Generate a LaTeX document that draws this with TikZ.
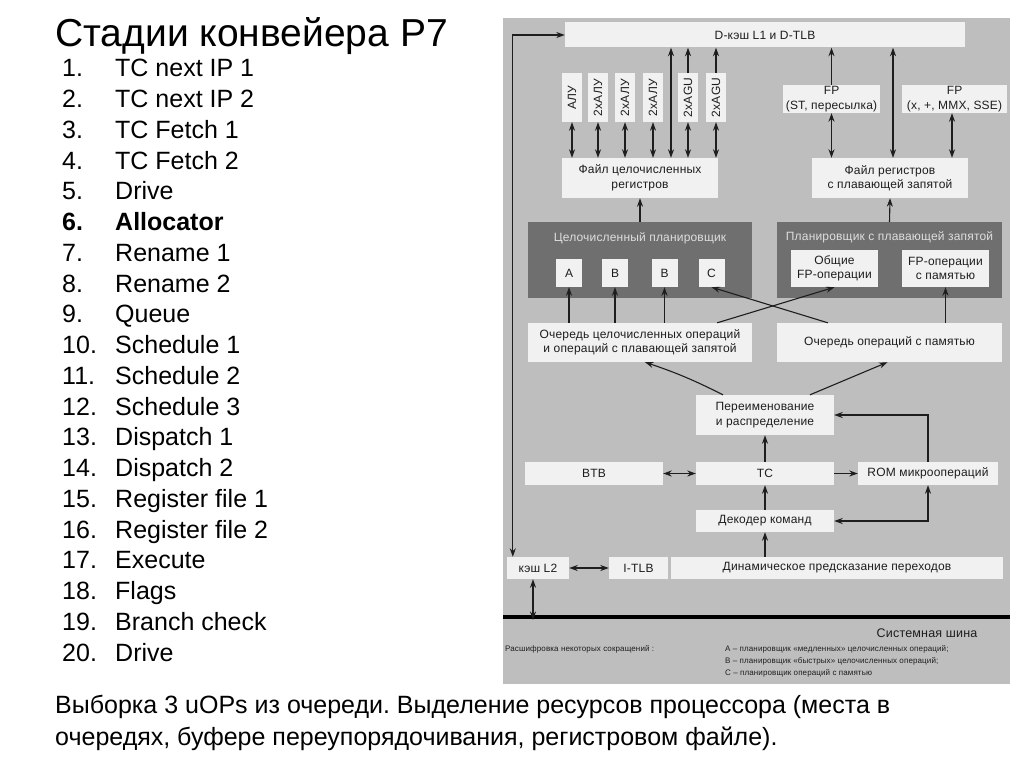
\documentclass[tikz,border=0pt]{standalone}
\usepackage{fontspec}
\usepackage{graphicx}
\setmainfont{Liberation Sans}
\newfontfamily\diagfont{Liberation Sans}[LetterSpace=1.5]
\usetikzlibrary{arrows.meta, positioning, calc}
\definecolor{P7_Back}{HTML}{BEBEBE}
\definecolor{P7_Box}{HTML}{F1F1F1}
\definecolor{P7_Dark}{HTML}{6F6F6F}
\definecolor{P7_Ink}{HTML}{1E1E1E}
\frenchspacing

\begin{document}
\begin{tikzpicture}[
    x=1pt, y=-1pt,
    >={Stealth[length=8.5pt, width=6pt]},
    sz/.style 2 args={minimum width=#1, minimum height=#2},
    blk/.style={
        fill=P7_Box,
        draw=none,
        text=P7_Ink,
        inner sep=1pt,
        align=center,
        font=\diagfont\fontsize{12}{14.5}\selectfont
    },
    sched/.style={fill=P7_Dark, draw=none},
    schedtitle/.style={text=P7_Box!85!P7_Dark, inner sep=0pt, font=\diagfont\fontsize{12}{14}\selectfont},
    arr/.style={draw=P7_Ink, line width=1.1pt},
    stage/.style={anchor=base west, inner sep=0pt, font=\fontsize{25}{30}\selectfont},
    legend/.style={anchor=west, inner sep=0pt, text=P7_Ink, font=\diagfont\fontsize{8}{10}\selectfont}
]
\useasboundingbox (0,0) rectangle (1024,768);
\fill[white] (0,0) rectangle (1024,768);

% title and list of stages
\node[anchor=base west, inner sep=0pt, font=\fontsize{39}{44}\selectfont] (title) at (55,46) {Стадии конвейера P7};
\foreach \txt [count=\i] in {TC next IP 1, TC next IP 2, TC Fetch 1, TC Fetch 2, Drive, Allocator, Rename 1, Rename 2, Queue, Schedule 1, Schedule 2, Schedule 3, Dispatch 1, Dispatch 2, Register file 1, Register file 2, Execute, Flags, Branch check, Drive}{
    \ifnum\i=6 \def\fw{\bfseries}\else\def\fw{}\fi
    \node[stage] (num\i) at (62, {77+(\i-1)*30.74}) {\fw\i.};
    \node[stage] (stg\i) at (115, {77+(\i-1)*30.74}) {\fw\txt};
}
\node[stage] (cap1) at (55,713) {Выборка 3 uOPs из очереди. Выделение ресурсов процессора (места в};
\node[stage] (cap2) at (55,745) {очередях, буфере переупорядочивания, регистровом файле).};

% diagram background
\fill[P7_Back] (503,18) rectangle (1010,684);

% memory side
\node[blk, sz={400}{25}] (dcache) at (765,35) {D-кэш L1 и D-TLB};
\foreach \x/\lbl [count=\i] in {572/АЛУ, 598/2xАЛУ, 625/2xАЛУ, 653/2xАЛУ, 688/2xAGU, 716/2xAGU}{
    \node[blk, sz={20}{49}] (alu\i) at (\x,97.5) {\rotatebox{90}{\lbl}};
}
\node[blk, sz={156}{40}] (ifile) at (640,178) {Файл целочисленных\\регистров};
\node[blk, sz={97}{28}] (fpst) at (831.5,99) {FP\\(ST, пересылка)};
\node[blk, sz={105}{28}] (fpmmx) at (954.5,99) {FP\\(x, +, MMX, SSE)};
\node[blk, sz={156}{40}] (ffile) at (890,178) {Файл регистров\\с плавающей запятой};

% schedulers
\node[sched, sz={224}{76}] (isched) at (640,260) {};
\node[schedtitle] (ischedT) at (640,238) {Целочисленный планировщик};
\node[blk, sz={26}{28}] (sA) at (569,273) {A};
\node[blk, sz={26}{28}] (sB1) at (615,273) {B};
\node[blk, sz={26}{28}] (sB2) at (664.5,273) {B};
\node[blk, sz={26}{28}] (sC) at (711.5,273) {C};
\node[sched, sz={225}{76}] (fsched) at (889.5,260) {};
\node[schedtitle] (fschedT) at (889.5,237) {Планировщик с плавающей запятой};
\node[blk, sz={87}{37}] (fgen) at (834.5,268.5) {Общие\\FP-операции};
\node[blk, sz={87}{37}] (fmem) at (945.5,268.5) {FP-операции\\с памятью};

% queues and front end
\node[blk, sz={224}{39}] (iqueue) at (640,342.5) {Очередь целочисленных операций\\и операций с плавающей запятой};
\node[blk, sz={225}{39}] (mqueue) at (889.5,342.5) {Очередь операций с памятью};
\node[blk, sz={138}{40}] (rename) at (765,415) {Переименование\\и распределение};
\node[blk, sz={138}{23}] (btb) at (594,473.5) {BTB};
\node[blk, sz={138}{23}] (tc) at (765,473.5) {TC};
\node[blk, sz={140}{23}] (rom) at (928,473.5) {ROM микроопераций};
\node[blk, sz={138}{22}] (decoder) at (765,521) {Декодер команд};
\node[blk, sz={62}{22}] (l2) at (538,568) {кэш L2};
\node[blk, sz={59}{22}] (itlb) at (638.5,568) {I-TLB};
\node[blk, sz={332}{22}] (bpred) at (837,568) {Динамическое предсказание переходов};

% system bus and legend
\coordinate (busW) at (503,617);
\coordinate (busE) at (1010,617);
\draw[line width=4.5pt, black] (busW) -- (busE);
\node[blk, fill=none, font=\diagfont\fontsize{12.5}{14}\selectfont] (busT) at (927,633) {Системная шина};
\node[legend] (legT) at (505,649) {Расшифровка некоторых сокращений :};
\node[legend] (legA) at (725,649) {A – планировщик «медленных» целочисленных операций;};
\node[legend] (legB) at (725,661) {B – планировщик «быстрых» целочисленных операций;};
\node[legend] (legC) at (725,673) {C – планировщик операций с памятью};

% connectors: execution units
\foreach \i in {1,...,6}{
    \draw[arr, <->] (alu\i.south) -- (alu\i.south |- ifile.north);
}
\draw[arr, ->] (alu5.north) -- (alu5.north |- dcache.south);
\draw[arr, ->] (alu6.north) -- (alu6.north |- dcache.south);
\draw[arr, <->] ([xshift=31]ifile.north) -- ([xshift=31]ifile.north |- dcache.south);
\draw[arr, ->] (fpst.north) -- (fpst.north |- dcache.south);
\draw[arr, <->] (fpst.south) -- (fpst.south |- ffile.north);
\draw[arr, <->] (fpmmx.south -| 952,0) -- (ffile.north -| 952,0);
\draw[arr, <->] ([xshift=3]ffile.north) -- ([xshift=3]ffile.north |- dcache.south);
\draw[arr, ->] (isched.north) -- (ifile.south);
\draw[arr, ->] (fsched.north) -- (ffile.south);

% connectors: queues to schedulers
\foreach \s in {sA, sB1, sB2}{
    \draw[arr, ->] (\s.south |- iqueue.north) -- (\s.south);
}
\draw[arr, ->] (fmem.south |- mqueue.north) -- (fmem.south);
\draw[arr, ->] ([xshift=-35]iqueue.north east) -- (fgen.south);
\draw[arr, ->] ([xshift=51]mqueue.north west) -- (sC.south);

% connectors: front end
\draw[arr, ->] ([xshift=-42]rename.north) to[bend right=4] ([xshift=5]iqueue.south);
\draw[arr, ->] ([xshift=45]rename.north) -- ([xshift=-2]mqueue.south);
\draw[arr, ->] (tc) -- (rename);
\draw[arr, ->] (decoder) -- (tc);
\draw[arr, ->] (decoder.south |- bpred.north) -- (decoder.south);
\draw[arr, <->] (btb) -- (tc);
\draw[arr, ->] (tc) -- (rom);
\draw[arr, ->] (rom.north) |- (rename.east);
\draw[arr, <->] (decoder.east) -| (rom.south);
\draw[arr, <->] (l2) -- (itlb);
\draw[arr, <->] ([xshift=-5]l2.south) -- ([xshift=-5,yshift=-3]l2.south |- busW);
\draw[arr, <->] (dcache.west) -| ([xshift=6]l2.north west);

\end{tikzpicture}
\end{document}
